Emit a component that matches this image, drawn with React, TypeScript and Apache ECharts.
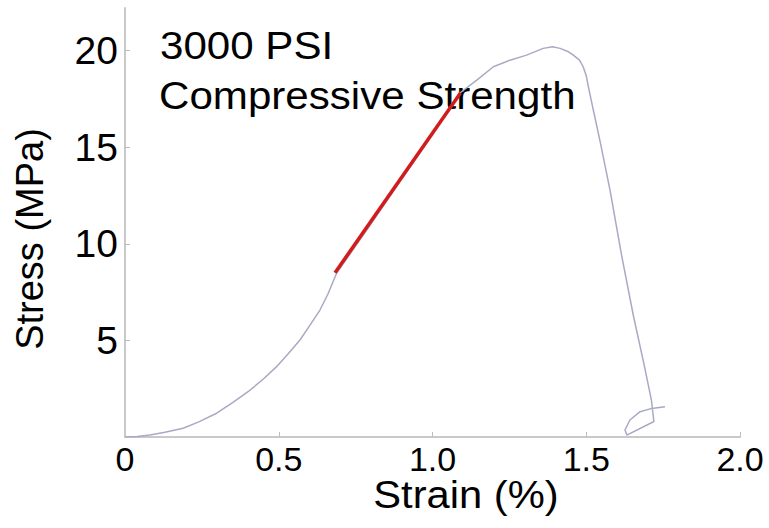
import React, { useEffect, useRef } from "react";
import * as echarts from "echarts";

// Stress-strain curve (strain %, stress MPa)
const curveStrain = [
  0, 0.04, 0.081, 0.13, 0.189, 0.24, 0.298, 0.35, 0.407, 0.45, 0.493, 0.53, 0.569, 0.6,
  0.634, 0.66, 0.688, 0.79, 0.9, 1.0, 1.089, 1.144, 1.198, 1.252, 1.306, 1.36, 1.39,
  1.415, 1.44, 1.458, 1.478, 1.49, 1.5, 1.507, 1.523, 1.545, 1.577, 1.615, 1.653, 1.69,
  1.712, 1.72, 1.632, 1.626, 1.642, 1.675, 1.713, 1.756,
];
const curveStress = [
  0, 0.02, 0.1, 0.25, 0.45, 0.78, 1.23, 1.78, 2.43, 3.0, 3.64, 4.3, 5.02, 5.75,
  6.57, 7.4, 8.47, 10.8, 13.35, 15.65, 17.8, 18.47, 19.16, 19.5, 19.76, 20.11, 20.2,
  20.11, 19.95, 19.76, 19.5, 19.16, 18.7, 18.12, 16.92, 15.3, 12.8, 9.4, 6.3, 3.6,
  1.9, 0.8, 0.1, 0.36, 0.88, 1.31, 1.48, 1.57,
];

// Linear (elastic) fit segment
const fitStrain = [0.683, 1.091];
const fitStress = [8.5, 17.8];

const xTicks = [0, 0.5, 1.0, 1.5, 2.0];
const yTicks = [5, 10, 15, 20];

const titleLines = ["3000 PSI", "Compressive Strength"];
const xName = "Strain (%)";
const yName = "Stress (MPa)";

const FONT = "Liberation Sans, Arial, sans-serif";

export default function App() {
  const ref = useRef<HTMLDivElement>(null);
  useEffect(() => {
    if (!ref.current) return;
    const chart = echarts.init(ref.current, null, { renderer: "svg" });
    const axisLine = { show: true, lineStyle: { color: "#c9c9c9", width: 2 } };
    chart.setOption({
      animation: false,
      textStyle: { fontFamily: FONT },
      grid: { left: 125, right: 29, top: 8, bottom: 91, containLabel: false },
      xAxis: {
        type: "value",
        min: 0,
        max: 2,
        interval: 0.5,
        axisLine,
        splitLine: { show: false },
        axisTick: {
          show: true,
          inside: true,
          length: 5,
          lineStyle: { color: "#bdbdbd", width: 1 },
          customValues: xTicks.slice(1),
        },
        axisLabel: {
          customValues: xTicks,
          fontSize: 34,
          color: "#000",
          margin: 5,
          fontFamily: FONT,
          formatter: (v: number) => (v === 0 ? "0" : v.toFixed(1)),
        },
      },
      yAxis: {
        type: "value",
        min: 0,
        max: 22.2,
        axisLine,
        splitLine: { show: false },
        axisTick: {
          show: true,
          inside: true,
          length: 5,
          lineStyle: { color: "#bdbdbd", width: 1 },
          customValues: yTicks,
        },
        axisLabel: {
          customValues: yTicks,
          fontSize: 39,
          color: "#000",
          margin: 7,
          fontFamily: FONT,
        },
      },
      series: [
        {
          type: "line",
          data: curveStrain.map((x, i) => [x, curveStress[i]]),
          showSymbol: false,
          smooth: false,
          lineStyle: { color: "#a9a9c6", width: 1.5 },
          z: 2,
        },
        {
          type: "line",
          data: fitStrain.map((x, i) => [x, fitStress[i]]),
          showSymbol: false,
          lineStyle: { color: "#d01c1c", width: 3.5 },
          z: 3,
        },
      ],
      graphic: [
        {
          type: "text",
          x: 160,
          y: 46,
          scaleX: 1.08,
          style: {
            text: titleLines[0],
            fontSize: 39,
            fontFamily: FONT,
            fill: "#000",
            textAlign: "left",
            textVerticalAlign: "middle",
            verticalAlign: "middle",
          },
        },
        {
          type: "text",
          x: 159,
          y: 96,
          scaleX: 1.08,
          style: {
            text: titleLines[1],
            fontSize: 39,
            fontFamily: FONT,
            fill: "#000",
            textAlign: "left",
            textVerticalAlign: "middle",
            verticalAlign: "middle",
          },
        },
        {
          type: "text",
          x: 466,
          y: 494,
          scaleX: 1.07,
          style: {
            text: xName,
            fontSize: 39,
            fontFamily: FONT,
            fill: "#000",
            textAlign: "center",
            textVerticalAlign: "middle",
            verticalAlign: "middle",
          },
        },
        {
          type: "text",
          x: 30,
          y: 239,
          rotation: Math.PI / 2,
          style: {
            text: yName,
            fontSize: 38,
            fontFamily: FONT,
            fill: "#000",
            textAlign: "center",
            textVerticalAlign: "middle",
            verticalAlign: "middle",
          },
        },
      ],
    });
    return () => chart.dispose();
  }, []);
  return <div ref={ref} style={{ width: 769, height: 528, position: "absolute", left: 0, top: 0 }} />;
}
